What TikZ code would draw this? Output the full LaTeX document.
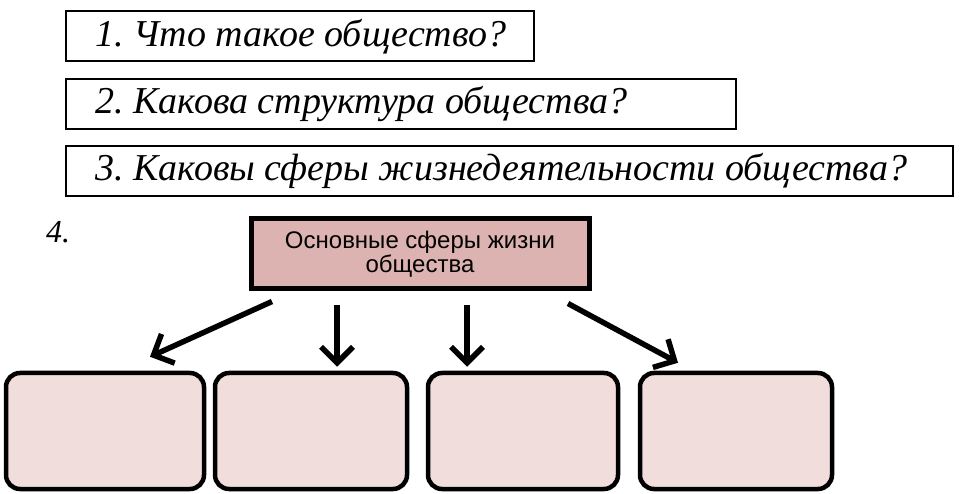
\documentclass[tikz,border=0pt]{standalone}
\usepackage{fontspec}
\setmainfont{Liberation Serif}
\setsansfont{Liberation Sans}
\usetikzlibrary{arrows.meta}
\definecolor{headfill}{HTML}{DDB3B1}
\definecolor{cellfill}{HTML}{F1DEDC}
\begin{document}
\begin{tikzpicture}[x=1pt,y=-1pt]
    \tikzstyle{qbox}=[draw=black,line width=2.2pt,anchor=north west,inner sep=0pt]
    \tikzstyle{qtext}=[anchor=west,inner sep=0pt,font=\fontsize{38}{40}\selectfont\itshape]
    \tikzstyle{dedge}=[line width=5.5pt,-{Straight Barb[length=16pt,width=32pt,line width=5.5pt]}]
    \tikzstyle{cell}=[draw=black,line width=4.5pt,fill=cellfill,rounded corners=14pt]
    \useasboundingbox (0,0) rectangle (962,494);
    % questions
    \node[qbox,minimum width=468pt,minimum height=50pt] (nQOne) at (65,10) {};
    \node[qtext] (tQOne) at (95,37) {1.\hspace{10pt}Что такое общество?};
    \node[qbox,minimum width=670pt,minimum height=50pt] (nQTwo) at (65,78) {};
    \node[qtext] (tQTwo) at (95,104) {2.\hspace{10pt}Какова структура общества?};
    \node[qbox,minimum width=887pt,minimum height=50pt] (nQThree) at (65,145) {};
    \node[qtext] (tQThree) at (95,171) {3.\hspace{10pt}Каковы сферы жизнедеятельности общества?};
    \node[qtext,font=\fontsize{32}{34}\selectfont\itshape] (tFour) at (46,232) {4.};
    % scheme
    \node[draw=black,line width=5pt,fill=headfill,minimum width=338pt,minimum height=70pt,
      align=center,font=\sffamily\fontsize{24}{24}\selectfont] (nSpheres) at (420,254)
      {Основные сферы жизни\\общества};
    \node[cell,minimum width=198pt,minimum height=116pt] (nCellA) at (105,431) {};
    \node[cell,minimum width=192pt,minimum height=116pt] (nCellB) at (311,431) {};
    \node[cell,minimum width=190pt,minimum height=116pt] (nCellC) at (523,431) {};
    \node[cell,minimum width=192pt,minimum height=116pt] (nCellD) at (736,431) {};
    \draw[dedge] ([xshift=-148pt,yshift=-10pt]nSpheres.south) -- ([xshift=45pt,yshift=14pt]nCellA.north);
    \draw[dedge] ([xshift=-83pt,yshift=-14pt]nSpheres.south) -- ([xshift=26pt,yshift=4pt]nCellB.north);
    \draw[dedge] ([xshift=47pt,yshift=-14pt]nSpheres.south) -- ([xshift=-56pt,yshift=4pt]nCellC.north);
    \draw[dedge] ([xshift=148pt,yshift=-12pt]nSpheres.south) -- ([xshift=-58pt,yshift=8pt]nCellD.north);
\end{tikzpicture}
\end{document}
